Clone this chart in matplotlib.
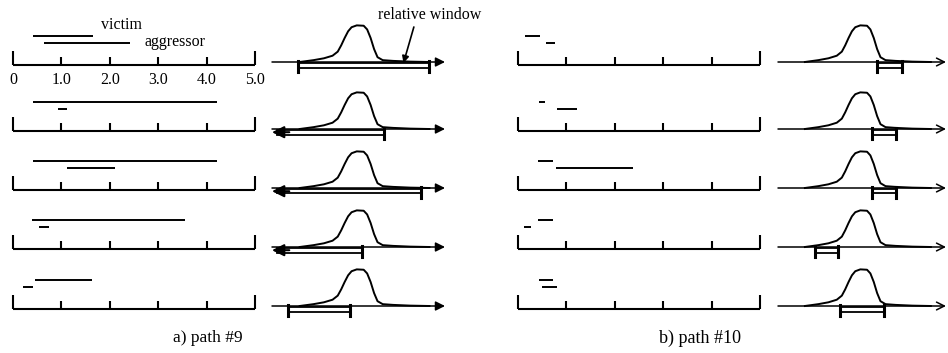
import numpy as np
import matplotlib
matplotlib.use("Agg")
import matplotlib.pyplot as plt
from matplotlib.patches import Rectangle

plt.rcParams['font.family'] = ['Liberation Serif', 'DejaVu Serif']

# time axis of the coupling timelines (ns)
t_ticks = [0, 1, 2, 3, 4, 5]
t_labels = ['0', '1.0', '2.0', '3.0', '4.0', '5.0']

# switching windows, (start, end) per row
path9_victim = [(0.41, 1.66), (0.41, 4.22), (0.41, 4.22), (0.39, 3.56), (0.45, 1.64)]
path9_aggressor = [(0.64, 2.42), (0.93, 1.12), (1.12, 2.11), (0.54, 0.75), (0.20, 0.41)]
path10_victim = [(0.14, 0.45), (0.43, 0.56), (0.41, 0.72), (0.41, 0.72), (0.43, 0.72)]
path10_aggressor = [(0.58, 0.76), (0.81, 1.22), (0.79, 2.38), (0.12, 0.27), (0.50, 0.81)]

# relative window on the delay distribution axis (None = open to the left)
path9_window = [(0.15, 0.91), (None, 0.65), (None, 0.86), (None, 0.52), (0.09, 0.45)]
path10_window = [(0.59, 0.74), (0.56, 0.70), (0.56, 0.70), (0.22, 0.36), (0.37, 0.63)]

# delay distribution (hand drawn bump), normalised height
dist_x = [0.16, 0.24, 0.30, 0.35, 0.38, 0.40, 0.42, 0.44, 0.46, 0.49, 0.53,
          0.55, 0.57, 0.59, 0.61, 0.64, 0.70, 0.80, 0.91]
dist_y = [0.0, 0.05, 0.10, 0.17, 0.28, 0.45, 0.65, 0.83, 0.94, 0.99, 0.98,
          0.88, 0.65, 0.35, 0.13, 0.05, 0.03, 0.01, 0.0]

W, H = 948, 353
fig = plt.figure(figsize=(W / 100, H / 100), dpi=100)

row_base = [65, 131, 190, 249, 309]
dist_base = [62, 129, 188, 247, 306]
BUMP = 37  # px height of distribution bump


def px_axes(x0, x1, base, v0, v1):
    # axes where 1 y unit = 1 px above baseline, x mapped so v0->x0, v1->x1
    pad = 12
    scale = (v1 - v0) / (x1 - x0)
    ax = fig.add_axes([(x0 - pad) / W, 1 - (base + 22) / H,
                       (x1 - x0 + 2 * pad) / W, 66 / H])
    ax.set_xlim(v0 - pad * scale, v1 + pad * scale)
    ax.set_ylim(-22, 44)
    ax.axis('off')
    return ax


def timeline(ax, victim, aggressor, labels=False):
    ax.plot([t_ticks[0], t_ticks[-1]], [0, 0], color='k', lw=1.5, solid_capstyle='butt')
    for t in t_ticks:
        h = 14 if t in (t_ticks[0], t_ticks[-1]) else 8
        ax.plot([t, t], [0, h], color='k', lw=1.5, solid_capstyle='butt')
    ax.plot(victim, [29, 29], color='k', lw=1.4, solid_capstyle='butt')
    ax.plot(aggressor, [22, 22], color='k', lw=1.4, solid_capstyle='butt')
    if labels:
        for t, lab in zip(t_ticks, t_labels):
            ax.text(t, -15, lab, ha='center', va='center', fontsize=11.5)


def distribution(ax, window, head='-|>'):
    ax.annotate('', xy=(1.0, 0), xytext=(0.0, 0),
                arrowprops=dict(arrowstyle=head, color='k', lw=1.1,
                                mutation_scale=14, shrinkA=0, shrinkB=0))
    ax.plot(dist_x, np.array(dist_y) * BUMP, color='k', lw=1.4)
    lo, hi = window
    start = 0.03 if lo is None else lo
    ax.add_patch(Rectangle((start, -5.5), hi - start, 4.5, facecolor='white',
                           edgecolor='k', lw=1.3, zorder=3))
    ax.plot([hi, hi], [1, -10], color='k', lw=2.2, zorder=4)
    if lo is None:
        ax.annotate('', xy=(0.0, -3.2), xytext=(0.1, -3.2),
                    arrowprops=dict(arrowstyle='-|>', color='k', lw=1.5,
                                    mutation_scale=18, shrinkA=0, shrinkB=0),
                    zorder=5)
    else:
        ax.plot([lo, lo], [1, -10], color='k', lw=2.2, zorder=4)


for i in range(5):
    ax = px_axes(13, 255, row_base[i], 0, 5)
    timeline(ax, path9_victim[i], path9_aggressor[i], labels=(i == 0))
    if i == 0:
        ax.text(1.82, 40, 'victim', ha='left', va='center', fontsize=11.5)
        ax.text(2.72, 23, 'aggressor', ha='left', va='center', fontsize=11.5)

    ax = px_axes(272, 445, dist_base[i], 0, 1)
    distribution(ax, path9_window[i])
    if i == 0:
        ax.text(0.615, 47, 'relative window', ha='left', va='center', fontsize=11.5)
        ax.annotate('', xy=(0.76, -1), xytext=(0.82, 35),
                    arrowprops=dict(arrowstyle='-|>', color='k', lw=1.2,
                                    mutation_scale=10, shrinkA=0, shrinkB=0))

    ax = px_axes(518, 760, row_base[i], 0, 5)
    timeline(ax, path10_victim[i], path10_aggressor[i])

    ax = px_axes(778, 946, dist_base[i], 0, 1)
    distribution(ax, path10_window[i], head='->')

fig.text(208 / W, 1 - 338 / H, 'a) path #9', ha='center', va='center', fontsize=12.5)
fig.text(700 / W, 1 - 338 / H, 'b) path #10', ha='center', va='center', fontsize=13)

fig.savefig('out.png', dpi=100, facecolor='white')
